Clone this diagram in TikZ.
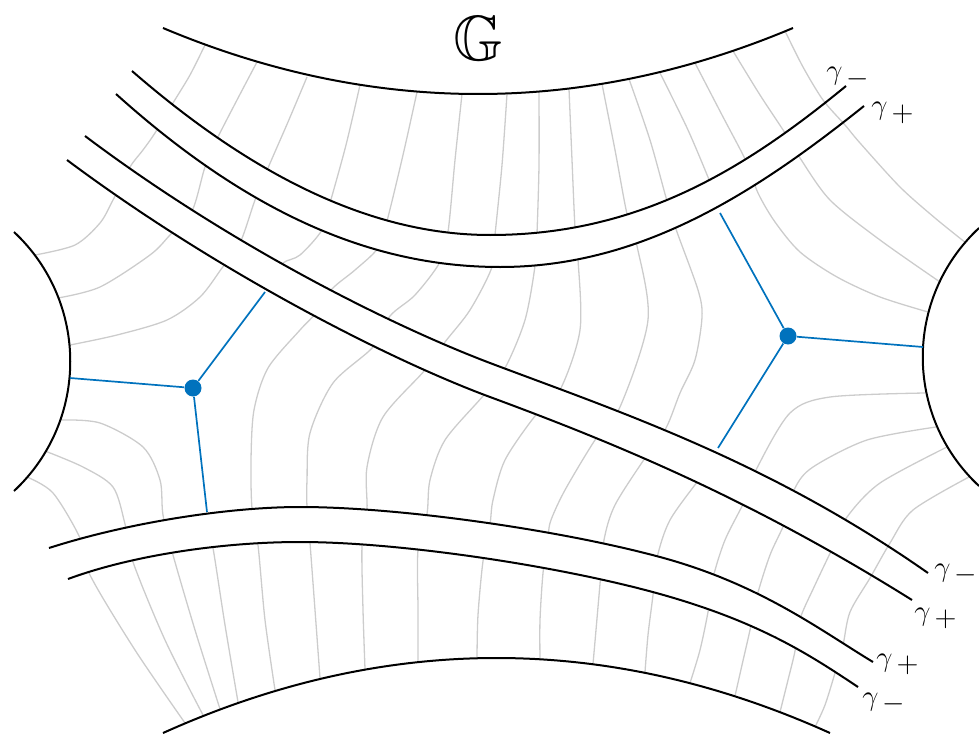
\documentclass[tikz,border=0pt]{standalone}
\usepackage{amsmath,amssymb}
\definecolor{sepblue}{RGB}{0,114,189}
\tikzset{
  flow/.style={black!20, line width=0.65pt},
  gam/.style={black, line width=1pt},
  sep/.style={sepblue, line width=0.85pt},
  zero/.style={circle, fill=sepblue, inner sep=0pt, minimum size=8.5pt},
  lab/.style={font=\Large, inner sep=0pt, anchor=base west},
}
\newcommand{\gsign}[1]{$\gamma_{\mkern5mu\textstyle #1}$}
\begin{document}
\begin{tikzpicture}[x=0.5pt, y=-0.5pt, every node/.style={font=\small}]
	\useasboundingbox (0,0) rectangle (979,733);
	% trajectories from top to bottom
	\draw[flow] plot[smooth] coordinates {(417,92) (403,155) (387,221) (378,248) (355,270) (332,289) (315,314) (300,330) (268,368) (254,410) (251,460) (252,509) (258,545) (265,620) (275,690)};
	\draw[flow] plot[smooth] coordinates {(462,94) (455,160) (448,232) (440,262) (415,295) (390,316) (373,347) (333,383) (310,433) (307,480) (307,507) (310,543) (315,610) (320,678)};
	\draw[flow] plot[smooth] coordinates {(507,94) (502,165) (495,235) (492,267) (470,310) (445,342) (425,370) (383,417) (367,467) (367,510) (362,546) (363,610) (365,669)};
	\draw[flow] plot[smooth] coordinates {(539,92) (539,165) (537,233) (535,266) (525,320) (505,368) (483,396) (445,440) (430,480) (427,514) (418,550) (418,610) (418,662)};
	\draw[flow] plot[smooth] coordinates {(569,89) (572,160) (575,228) (578,259) (580,330) (560,390) (535,416) (505,460) (493,500) (490,524) (483,561) (478,615) (477,658)};
	\draw[flow] plot[smooth] coordinates {(602,84) (615,150) (627,214) (637,246) (648,320) (620,407) (595,440) (565,490) (551,520) (548,536) (543,573) (540,620) (540,659)};
	\draw[flow] plot[smooth] coordinates {(629,79) (650,140) (667,201) (677,232) (698,290) (702,317) (695,360) (680,393) (666,428) (645,458) (615,505) (604,540) (600,584) (596,630) (593,664)};
	% continuations of the separatrices
	\draw[flow] plot[smooth] coordinates {(360,85) (346,145) (330,203) (322,230) (300,255) (283,263) (272,280)};
	\draw[flow] plot[smooth] coordinates {(660,73) (688,130) (712,187) (716,200)};
	\draw[flow] plot[smooth] coordinates {(208,530) (213,548) (225,625) (238,702)};
	\draw[flow] plot[smooth] coordinates {(708,465) (700,478) (670,520) (657,558) (653,595) (648,635) (645,672)};
	% top to left
	\draw[flow] plot[smooth] coordinates {(205,45) (190,75) (173,103) (155,133) (143,150) (130,167) (113,200) (100,223) (75,245) (35,255)};
	\draw[flow] plot[smooth] coordinates {(257,62) (237,100) (217,139) (205,167) (192,211) (170,235) (150,255) (100,287) (58,298)};
	\draw[flow] plot[smooth] coordinates {(307,77) (288,122) (268,168) (255,200) (240,243) (222,268) (200,297) (167,320) (117,335) (70,345)};
	% left to bottom
	\draw[flow] plot[smooth] coordinates {(61,420) (100,423) (143,447) (160,480) (163,515) (173,555) (195,630) (220,709)};
	\draw[flow] plot[smooth] coordinates {(45,451) (83,467) (113,487) (125,524) (133,562) (165,640) (203,715)};
	\draw[flow] plot[smooth] coordinates {(27,477) (53,493) (80,538) (90,575) (135,650) (185,723)};
	% top to right
	\draw[flow] plot[smooth] coordinates {(695,63) (722,115) (747,163) (758,193) (775,222) (800,252) (837,277) (880,297) (928,312)};
	\draw[flow] plot[smooth] coordinates {(733,51) (760,95) (787,136) (800,158) (830,200) (880,240) (940,282)};
	% right to bottom
	\draw[flow] plot[smooth] coordinates {(925,393) (830,397) (790,413) (757,468) (745,500) (725,540) (713,578) (708,612) (700,650) (690,683)};
	\draw[flow] plot[smooth] coordinates {(936,427) (867,440) (813,467) (795,488) (785,522) (770,555) (757,596) (750,630) (742,665) (735,696)};
	\draw[flow] plot[smooth] coordinates {(947,447) (880,483) (847,517) (833,547) (815,585) (800,619) (795,651) (788,680) (780,712)};
	% strips
	\fill[white] (132,71) .. controls (262,184) and (380,235) .. (490,235) .. controls (640,235) and (746,168) .. (846,86)
		-- (864,106) .. controls (754,194) and (640,267) .. (500,267) .. controls (380,267) and (256,220) .. (116,94) -- cycle;
	\fill[white] (85,136) .. controls (230,245) and (390,325) .. (490,363) .. controls (620,412) and (768,461) .. (928,573)
		-- (912,600) .. controls (752,500) and (620,445) .. (490,397) .. controls (390,360) and (217,272) .. (67,160) -- cycle;
	\draw[flow] plot[smooth] coordinates {(969,477) (913,510) (890,543) (870,578) (850,612) (843,645) (835,673) (825,705) (815,727)};
	\fill[white] (49,548) .. controls (130,522) and (230,507) .. (300,507) .. controls (400,507) and (560,530) .. (660,557) .. controls (760,584) and (820,630) .. (873,662)
		-- (858,687) .. controls (810,655) and (760,622) .. (660,594) .. controls (560,566) and (400,542) .. (300,542) .. controls (220,542) and (130,556) .. (68,579) -- cycle;
	\draw[flow] plot[smooth] coordinates {(785,31) (803,67) (823,100) (845,125) (860,143) (900,187) (935,218) (966,243)};
	% boundary
	\draw[gam] (163,28) .. controls (372,116) and (584,116) .. (793,28);
	\draw[gam] (163,733) .. controls (385,633) and (608,633) .. (830,733);
	\draw[gam] (14,232) .. controls (89,302) and (89,421) .. (14,491);
	\draw[gam] (979,228) .. controls (904,298) and (904,416) .. (979,486);
	% the curves gamma
	\draw[gam] (132,71) .. controls (262,184) and (380,235) .. (490,235) .. controls (640,235) and (746,168) .. (846,86);
	\draw[gam] (116,94) .. controls (256,220) and (380,267) .. (500,267) .. controls (640,267) and (754,194) .. (864,106);
	\draw[gam] (85,136) .. controls (230,245) and (390,325) .. (490,363) .. controls (620,412) and (768,461) .. (928,573);
	\draw[gam] (67,160) .. controls (217,272) and (390,360) .. (490,397) .. controls (620,445) and (752,500) .. (912,600);
	\draw[gam] (49,548) .. controls (130,522) and (230,507) .. (300,507) .. controls (400,507) and (560,530) .. (660,557) .. controls (760,584) and (820,630) .. (873,662);
	\draw[gam] (68,579) .. controls (130,556) and (220,542) .. (300,542) .. controls (400,542) and (560,566) .. (660,594) .. controls (760,622) and (810,655) .. (858,687);
	% separatrices
	\coordinate (la) at (70,378);
	\coordinate (lb) at (265,292);
	\coordinate (lc) at (207,512);
	\coordinate (ra) at (720,213);
	\coordinate (rb) at (923,347);
	\coordinate (rc) at (718,448);
	\node[zero] (vl) at (193,388) {};
	\node[zero] (vr) at (788,336) {};
	\draw[sep] (vl) -- (la);
	\draw[sep] (vl) -- (lb);
	\draw[sep] (vl) -- (lc);
	\draw[sep] (vr) -- (ra);
	\draw[sep] (vr) -- (rb);
	\draw[sep] (vr) -- (rc);
	% labels
	\node[font=\fontsize{32}{36}\selectfont, inner sep=0pt] (G) at (478,38) {$\mathbb{G}$};
	\node[lab] (um) at (826,80) {\gsign{-}};
	\node[lab] (up) at (871,115) {\gsign{+}};
	\node[lab] (dm) at (934,576) {\gsign{-}};
	\node[lab] (dp) at (914,620) {\gsign{+}};
	\node[lab] (lp) at (876,666) {\gsign{+}};
	\node[lab] (lm) at (862,705) {\gsign{-}};
\end{tikzpicture}
\end{document}
